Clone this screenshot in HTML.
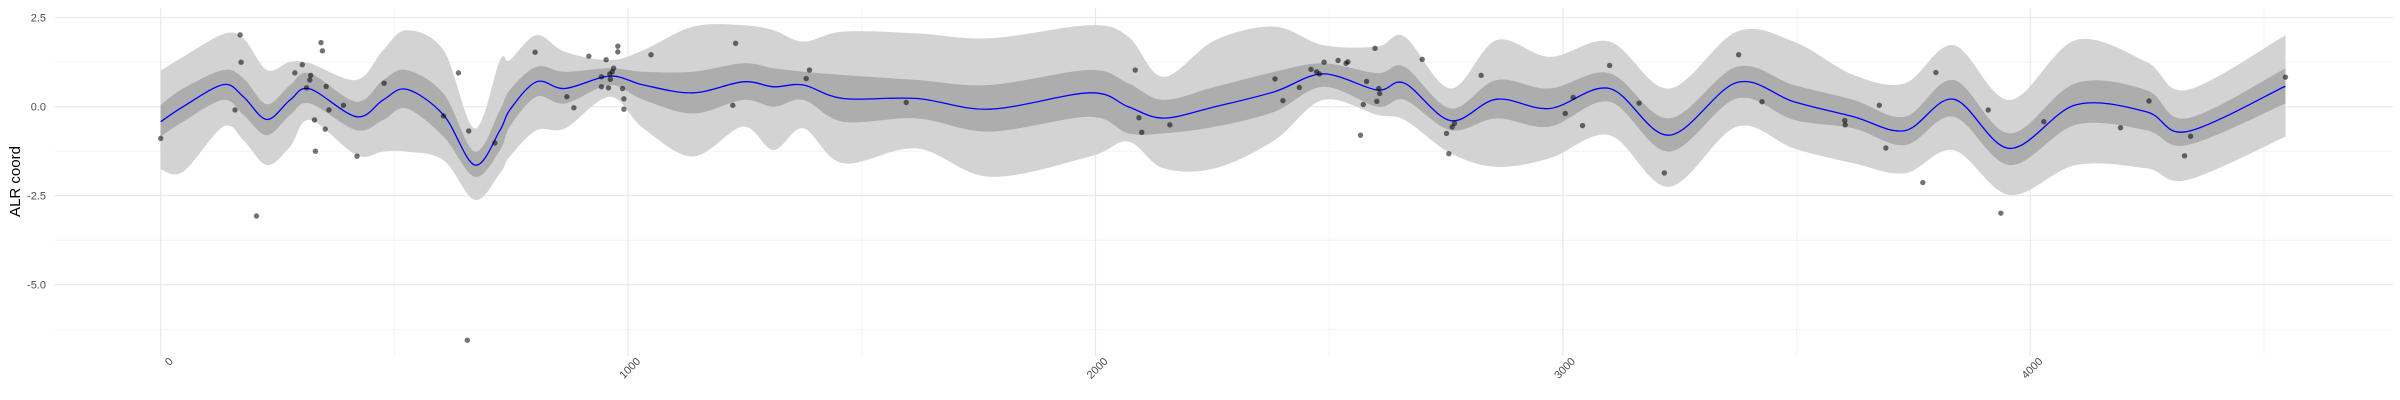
<!DOCTYPE html>
<html><head><meta charset="utf-8"><style>
html,body{margin:0;padding:0;background:#fff;}
svg{display:block;font-family:"Liberation Sans",sans-serif;}
</style></head><body>
<svg id="chart" width="2400" height="400" viewBox="0 0 2400 400" xmlns="http://www.w3.org/2000/svg">
<g id="grid"></g>
<g id="bands"></g>
<g id="line"></g>
<g id="pts"></g>
<g id="axes"></g>
<text transform="translate(20,181.5) rotate(-90)" text-anchor="middle" font-size="15" fill="#000">ALR coord</text>
</svg>
<script>
const knotX=[0,48,134,177,227,277,319,419,476,526,605,672,726,747,804,865,961,1033,1139,1246,1311,1375,1460,1618,1774,1988,2070,2145,2256,2383,2487,2603,2661,2760,2858,2972,3100,3227,3372,3494,3622,3732,3836,3956,4097,4248,4335,4546];
const meanY=[-0.42,0.00,0.62,0.28,-0.36,0.19,0.50,-0.28,0.19,0.49,-0.23,-1.64,-0.66,-0.09,0.70,0.51,0.86,0.61,0.39,0.70,0.56,0.61,0.23,0.23,-0.07,0.39,0.00,-0.32,0.00,0.42,0.92,0.47,0.66,-0.39,0.21,-0.05,0.51,-0.80,0.68,0.14,-0.28,-0.67,0.21,-1.17,0.05,-0.14,-0.70,0.58];
const innerHi=[0.05,0.51,1.03,0.80,0.07,0.61,0.94,0.14,0.75,1.03,0.37,-1.26,-0.09,0.47,1.12,0.98,1.08,0.98,0.98,1.22,1.08,0.98,0.89,0.75,0.61,1.03,0.66,0.19,0.56,0.98,1.22,0.94,1.12,-0.05,0.75,0.51,0.94,-0.33,1.12,0.61,0.19,-0.28,0.75,-0.75,0.66,0.47,-0.33,1.08];
const innerLo=[-0.84,-0.42,0.19,-0.23,-0.80,-0.23,0.09,-0.66,-0.37,-0.05,-0.84,-1.97,-1.22,-0.56,0.28,0.09,0.61,0.19,-0.19,0.19,0.00,0.19,-0.42,-0.33,-0.70,-0.28,-0.75,-0.75,-0.56,-0.14,0.56,0.00,0.19,-0.66,-0.33,-0.56,0.14,-1.26,0.23,-0.37,-0.61,-1.08,-0.28,-1.64,-0.51,-0.66,-1.08,0.09];
const outerHi=[1.01,1.40,2.04,1.92,1.03,1.26,1.22,0.75,1.59,2.15,1.59,-0.61,1.31,1.31,2.01,1.54,1.31,1.59,2.25,2.29,2.15,1.83,2.11,2.06,1.92,2.29,1.97,0.84,1.87,2.25,1.73,1.69,1.97,0.51,1.87,1.40,1.83,0.51,2.11,1.83,0.89,0.66,1.73,0.19,1.87,1.26,0.47,2.01];
const outerLo=[-1.76,-1.83,-0.56,-0.94,-1.64,-1.12,-0.37,-1.36,-1.26,-1.26,-1.50,-2.62,-1.87,-1.40,-0.66,-0.61,0.28,-0.61,-1.40,-0.56,-1.22,-0.61,-1.59,-1.17,-1.97,-1.40,-0.98,-1.73,-1.73,-0.94,0.19,-0.23,-0.37,-1.31,-1.69,-1.45,-0.80,-2.25,-0.56,-1.17,-1.59,-1.87,-1.22,-2.48,-1.64,-1.73,-2.06,-0.84];
const ptX=[0,159,170,172,205,287,303,321,319,312,343,346,354,360,329,352,331,391,420,478,605,637,659,656,715,801,869,884,916,953,943,943,958,962,961,966,969,978,978,988,991,991,1049,1230,1224,1381,1388,1595,2085,2093,2099,2159,2384,2401,2436,2461,2473,2479,2489,2519,2536,2540,2598,2580,2606,2608,2573,2602,2567,2699,2751,2763,2768,2756,2825,3005,3022,3042,3100,3163,3217,3376,3426,3603,3604,3677,3691,3770,3798,3910,3937,4029,4193,4254,4330,4343,4546];
const ptY=[-0.89,-0.09,2.02,1.25,-3.07,0.95,1.18,0.88,0.75,0.53,1.80,1.57,0.57,-0.09,-0.37,-0.63,-1.25,0.04,-1.39,0.66,-0.26,0.95,-0.68,-6.56,-1.02,1.53,0.28,-0.03,1.42,1.32,0.84,0.56,0.53,0.77,0.92,0.98,1.08,1.70,1.54,0.51,0.22,-0.07,1.46,1.78,0.04,0.79,1.03,0.12,1.03,-0.31,-0.72,-0.51,0.78,0.17,0.54,1.05,0.98,0.92,1.25,1.30,1.22,1.26,1.64,0.71,0.51,0.37,0.06,0.15,-0.80,1.33,-0.75,-0.57,-0.47,-1.32,0.88,-0.19,0.26,-0.53,1.16,0.10,-1.86,1.46,0.14,-0.39,-0.51,0.04,-1.16,-2.13,0.96,-0.09,-2.99,-0.42,-0.59,0.16,-1.38,-0.83,0.83];
const yMajor=[2.5,0,-2.5,-5];
const yMajorLabels=["2.5","0.0","-2.5","-5.0"];
const yMinor=[1.25,-1.25,-3.75,-6.25];
const xMajor=[0,1000,2000,3000,4000];
const xMinor=[500,1500,2500,3500,4500];

const NS="http://www.w3.org/2000/svg";
const X=d=>160.7+d*0.4674;
const Y=v=>106.7-v*35.6;
const PL=54.5,PR=2393,PT=8,PB=356;
function mk(tag,attrs,parent){const e=document.createElementNS(NS,tag);for(const k in attrs)e.setAttribute(k,attrs[k]);parent.appendChild(e);return e;}
function spline(xs,ys){
  const p=xs.map((x,i)=>[X(x),Y(ys[i])]);
  let d="";
  for(let i=0;i<p.length-1;i++){
    const p0=p[Math.max(0,i-1)],p1=p[i],p2=p[i+1],p3=p[Math.min(p.length-1,i+2)];
    const c1=[p1[0]+(p2[0]-p0[0])/6,p1[1]+(p2[1]-p0[1])/6];
    const c2=[p2[0]-(p3[0]-p1[0])/6,p2[1]-(p3[1]-p1[1])/6];
    d+=(i===0?"M"+p1[0].toFixed(1)+","+p1[1].toFixed(1):"")+"C"+c1[0].toFixed(1)+","+c1[1].toFixed(1)+" "+c2[0].toFixed(1)+","+c2[1].toFixed(1)+" "+p2[0].toFixed(1)+","+p2[1].toFixed(1);
  }
  return d;
}
function band(hi,lo){
  const top=spline(knotX,hi);
  const rx=knotX.slice().reverse(),rl=lo.slice().reverse();
  const bot=spline(rx,rl).replace(/^M/,"L");
  return top+bot+"Z";
}
const grid=document.getElementById('grid');
yMinor.forEach(v=>{const l=mk('line',{x1:PL,x2:PR,y1:Y(v),y2:Y(v),stroke:'#f4f4f4','stroke-width':1},grid);

});
xMinor.forEach(v=>{const l=mk('line',{x1:X(v),x2:X(v),y1:PT,y2:PB,stroke:'#f4f4f4','stroke-width':1},grid);

});
yMajor.forEach(v=>{const l=mk('line',{x1:PL,x2:PR,y1:Y(v),y2:Y(v),stroke:'#e8e8e8','stroke-width':1.2},grid);

});
xMajor.forEach(v=>{const l=mk('line',{x1:X(v),x2:X(v),y1:PT,y2:PB,stroke:'#e8e8e8','stroke-width':1.2},grid);

});
const bands=document.getElementById('bands');
const ob=mk('path',{d:band(outerHi,outerLo),fill:'#d3d3d3'},bands);


const ib=mk('path',{d:band(innerHi,innerLo),fill:'#adadad'},bands);


const ln=mk('path',{d:spline(knotX,meanY),fill:'none',stroke:'#0000ff','stroke-width':1.3},document.getElementById('line'));


const pts=document.getElementById('pts');
ptX.forEach((x,i)=>{const c=mk('circle',{cx:X(x),cy:Y(ptY[i]),r:2.7,fill:'#000','fill-opacity':0.55},pts);

});
const axes=document.getElementById('axes');
yMajor.forEach((v,i)=>{const t=mk('text',{x:46,y:Y(v)+3.8,'text-anchor':'end','font-size':11,fill:'#4d4d4d'},axes);t.textContent=yMajorLabels[i];

});
xMajor.forEach(v=>{const x=X(v)+13,y=362;const t=mk('text',{x:x,y:y,'text-anchor':'end','font-size':11,fill:'#4d4d4d',transform:'rotate(-45 '+x+' '+y+')'},axes);t.textContent=String(v);

});
</script>
</body></html>
